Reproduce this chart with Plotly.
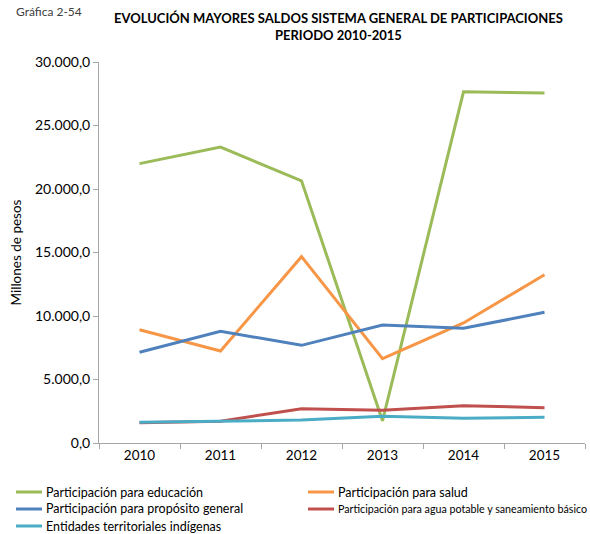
import plotly.graph_objects as go

years = ["2010", "2011", "2012", "2013", "2014", "2015"]

educacion = [22000, 23300, 20650, 1750, 27650, 27550]
salud = [8920, 7240, 14670, 6640, 9450, 13250]
proposito_general = [7140, 8800, 7690, 9290, 9030, 10290]
agua_saneamiento = [1600, 1710, 2700, 2570, 2940, 2780]
indigenas = [1630, 1730, 1810, 2100, 1940, 2020]

series_names = [
    "Participación para educación",
    "Participación para salud",
    "Participación para propósito general",
    "Participación para agua potable y saneamiento básico",
    "Entidades territoriales indígenas",
]
series_values = [educacion, salud, proposito_general, agua_saneamiento, indigenas]
series_colors = ["#9BBB59", "#F79646", "#4F81BD", "#C0504D", "#4BACC6"]

FONT = "Lato"
W, H = 590, 534
L, R, T, B = 99, 5, 62, 91
PW, PH = W - L - R, H - T - B


def px(x):
    return (x - L) / PW


def py(y):
    return (H - B - y) / PH


fig = go.Figure()
for name, values, color in zip(series_names, series_values, series_colors):
    fig.add_trace(go.Scatter(
        x=years, y=values, name=name, mode="lines",
        line=dict(color=color, width=3),
    ))

# Legend below the axes: two columns, filled row by row
legend_slots = [(16, 492), (308, 492), (16, 509), (308, 509), (16, 526)]
legend_sizes = [12.5, 12.5, 12.5, 10.7, 12.5]
shapes = []
annotations = []
for (lx, ly), name, color, fs in zip(legend_slots, series_names, series_colors, legend_sizes):
    shapes.append(dict(type="line", xref="paper", yref="paper",
                       x0=px(lx), x1=px(lx + 26), y0=py(ly), y1=py(ly),
                       line=dict(color=color, width=3)))
    annotations.append(dict(text=name, xref="paper", yref="paper",
                            x=px(lx + 28), y=py(ly), xanchor="left", yanchor="middle",
                            showarrow=False,
                            font=dict(family=FONT, size=fs, color="#000000")))

annotations.append(dict(text="Gráfica 2-54", xref="paper", yref="paper",
                        x=px(14), y=py(11), xanchor="left", yanchor="middle",
                        showarrow=False,
                        font=dict(family=FONT, size=12, color="#404040")))
annotations.append(dict(text="<b>EVOLUCIÓN MAYORES SALDOS SISTEMA GENERAL DE PARTICIPACIONES<br>PERIODO 2010-2015</b>",
                        xref="paper", yref="paper", x=px(338), y=py(8),
                        xanchor="center", yanchor="top", showarrow=False,
                        font=dict(family=FONT, size=13, color="#000000")))

fig.update_layout(
    width=W, height=H,
    margin=dict(l=L, r=R, t=T, b=B),
    paper_bgcolor="white", plot_bgcolor="white",
    font=dict(family=FONT, size=13, color="#000000"),
    separators=",.",
    showlegend=False,
    shapes=shapes,
    annotations=annotations,
)

fig.update_xaxes(
    type="category", range=[-0.5, 5.5], automargin=False,
    showline=True, linecolor="#A6A6A6", linewidth=1,
    ticks="outside", tickson="boundaries", ticklen=5, tickcolor="#A6A6A6",
    showgrid=False, zeroline=False,
    tickfont=dict(family=FONT, size=13.5, color="#000000"),
)
fig.update_yaxes(
    range=[0, 30000], dtick=5000, tickformat=",.1f", automargin=False,
    showline=True, linecolor="#A6A6A6", linewidth=1,
    ticks="outside", ticklen=5, tickcolor="#A6A6A6",
    showgrid=False, zeroline=False,
    tickfont=dict(family=FONT, size=14, color="#000000"),
    title=dict(text="Millones de pesos", standoff=10,
               font=dict(family=FONT, size=13.5, color="#000000")),
)

fig.write_html("out.html")
